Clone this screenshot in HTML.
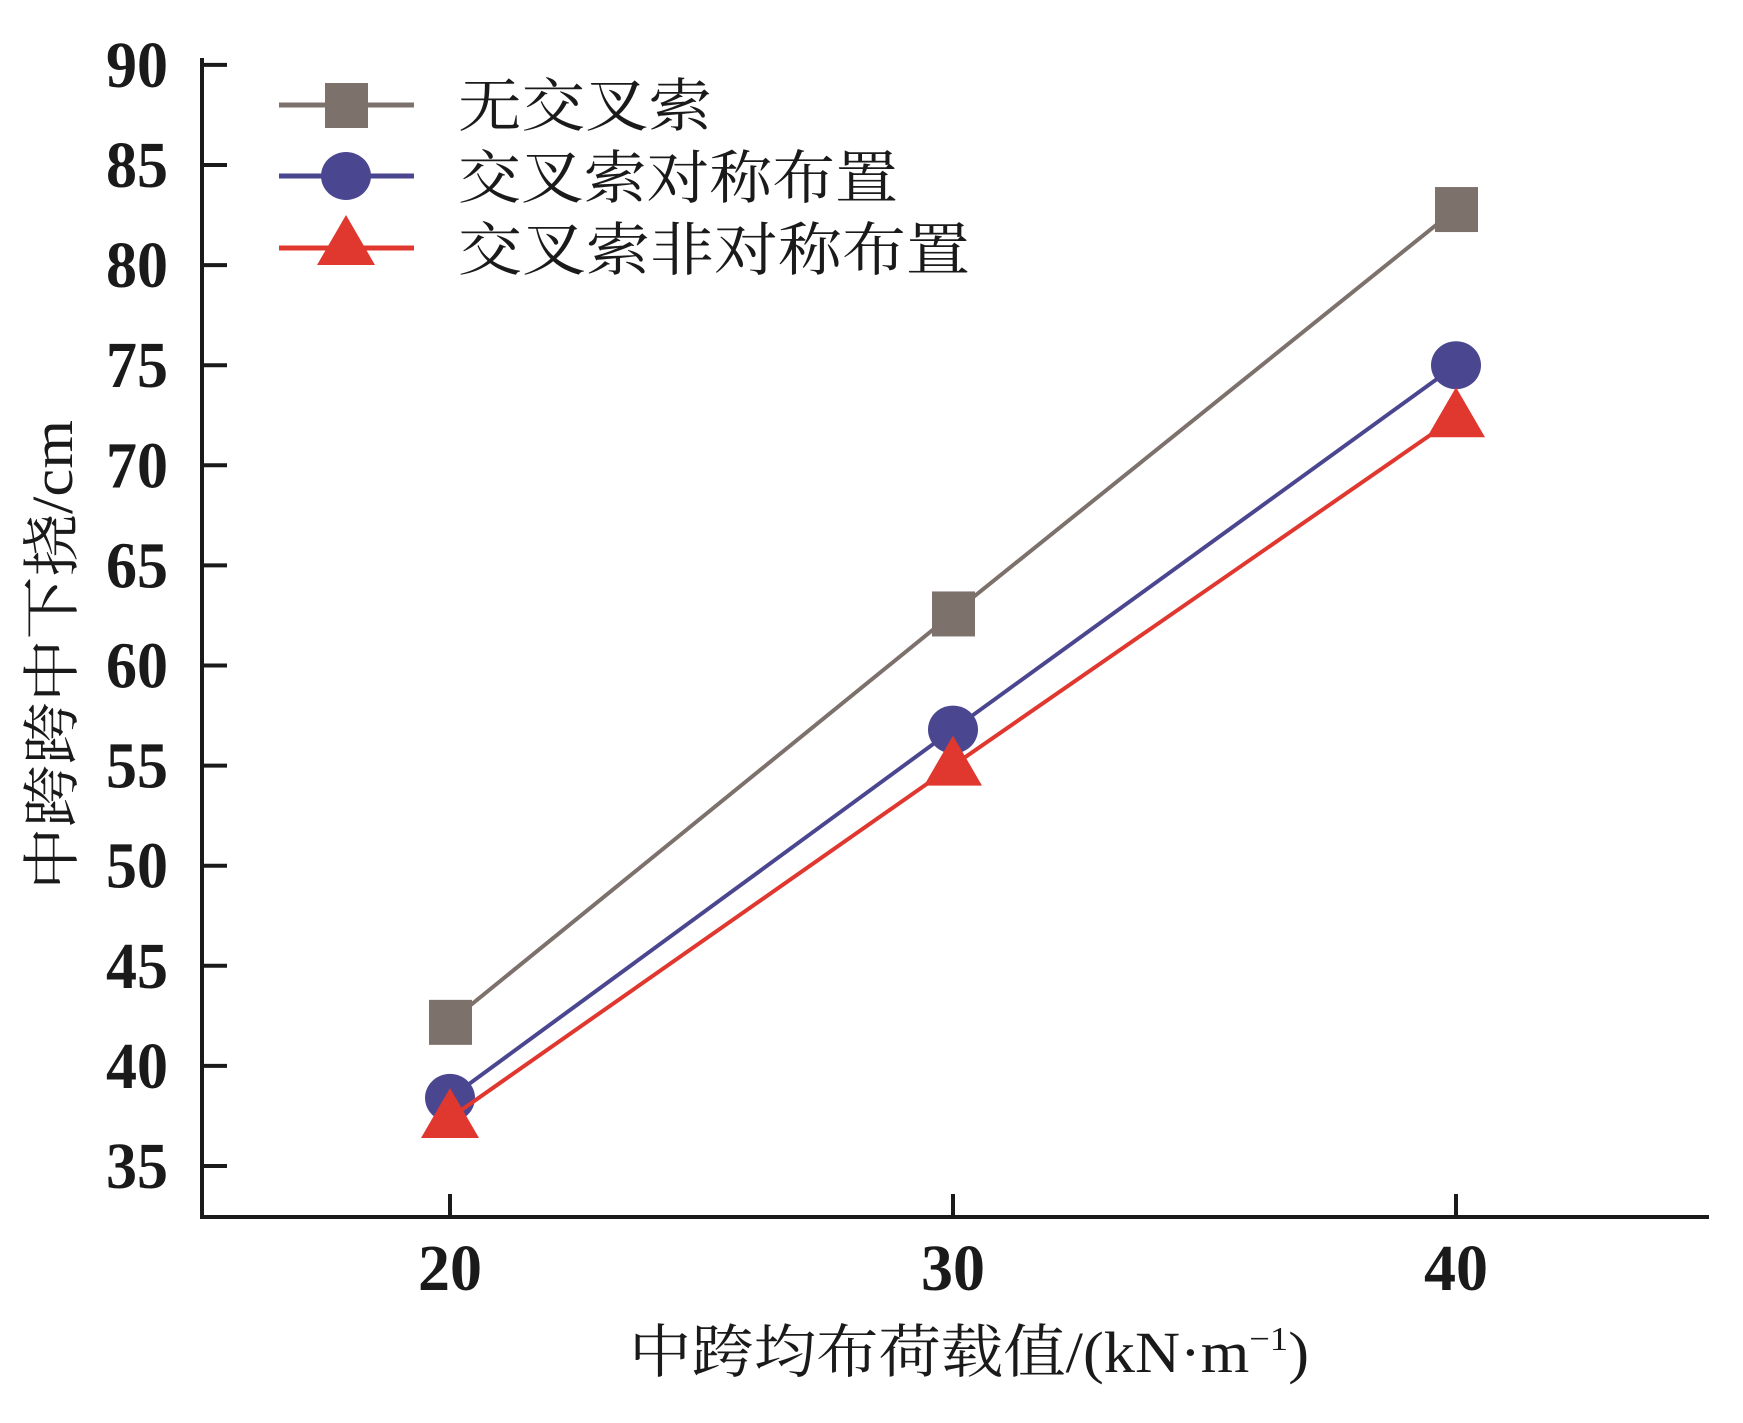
<!DOCTYPE html>
<html><head><meta charset="utf-8"><style>
html,body{margin:0;padding:0;background:#fff;}
svg{display:block;}
.tk{font-family:"Liberation Serif",serif;font-weight:bold;font-size:66px;fill:#1a1a1a;}
.cj{font-family:"Liberation Serif","Noto Serif CJK SC","Noto Sans CJK SC",serif;font-size:58px;fill:#1a1a1a;}
</style></head><body>
<svg id="chart" width="1743" height="1423" viewBox="0 0 1743 1423" xmlns="http://www.w3.org/2000/svg">
<g id="axes"></g>
<g id="series"></g>
<g id="legend">
  <g>
    <line x1="279" y1="105" x2="414" y2="105" stroke="#7d716c" stroke-width="5"/>
    <rect x="325" y="83" width="43" height="45" fill="#7d716c"/>
    <text class="cj" x="458" y="126" textLength="254" lengthAdjust="spacingAndGlyphs">无交叉索</text>
  </g>
  <g>
    <line x1="279" y1="176" x2="414" y2="176" stroke="#4b4690" stroke-width="5"/>
    <ellipse cx="346" cy="176" rx="25" ry="24" fill="#4b4690"/>
    <text class="cj" x="458" y="198" textLength="440" lengthAdjust="spacingAndGlyphs">交叉索对称布置</text>
  </g>
  <g>
    <line x1="279" y1="248" x2="414" y2="248" stroke="#e0372f" stroke-width="5"/>
    <polygon points="346,215 375,265 317,265" fill="#e0372f"/>
    <text class="cj" x="458" y="270" textLength="512" lengthAdjust="spacingAndGlyphs">交叉索非对称布置</text>
  </g>
</g>
<text class="cj" x="629" y="1372" textLength="680" lengthAdjust="spacingAndGlyphs">中跨均布荷载值/(kN·m<tspan font-size="34" dy="-22">−1</tspan><tspan dy="22">)</tspan></text>
<text class="cj" transform="translate(72,890) rotate(-90)" x="0" y="0" textLength="470" lengthAdjust="spacingAndGlyphs">中跨跨中下挠/cm</text>
</svg>
<script>
const categories=[20,30,40];
const noCross=[42.2,62.6,82.8];
const symmetric=[38.4,56.8,75.0];
const asymmetric=[37.4,55.0,72.4];
const yTicks=[35,40,45,50,55,60,65,70,75,80,85,90];
const xTicks=[20,30,40];
const NS='http://www.w3.org/2000/svg';
function X(v){return 450+(v-20)*50.3;}
function Y(v){return 1166-(v-35)*20.02;}
function mk(t,a,p){const e=document.createElementNS(NS,t);for(const k in a)e.setAttribute(k,a[k]);p.appendChild(e);return e;}
const ax=document.getElementById('axes');
let l=mk('path',{d:'M202,58 L202,1217 L1709,1217',fill:'none',stroke:'#1a1a1a','stroke-width':4},ax);


yTicks.forEach(v=>{
  const t=mk('line',{x1:202,x2:227,y1:Y(v),y2:Y(v),stroke:'#1a1a1a','stroke-width':4},ax);
  
  
  const s=mk('text',{class:'tk',x:106,y:Y(v)+22,textLength:62,lengthAdjust:'spacingAndGlyphs'},ax);
  s.textContent=v;
  
  
});
xTicks.forEach(v=>{
  const t=mk('line',{x1:X(v),x2:X(v),y1:1217,y2:1194,stroke:'#1a1a1a','stroke-width':4},ax);
  
  
  const s=mk('text',{class:'tk',x:X(v)-32,y:1290,textLength:64,lengthAdjust:'spacingAndGlyphs'},ax);
  s.textContent=v;
  
  
});
const sg=document.getElementById('series');
function series(vals,color,kind,name){
  const g=mk('g',{},sg);
  
  
  const pl=mk('polyline',{points:vals.map((v,i)=>X(categories[i])+','+Y(v)).join(' '),fill:'none',stroke:color,'stroke-width':4},g);
  
  
  vals.forEach((v,i)=>{
    const x=X(categories[i]),y=Y(v);let m;
    if(kind==='sq')m=mk('rect',{x:x-21,y:y-22,width:43,height:45,fill:color},g);
    else if(kind==='ci')m=mk('ellipse',{cx:x,cy:y,rx:25,ry:24,fill:color},g);
    else m=mk('polygon',{points:`${x},${y-30} ${x+29},${y+20} ${x-29},${y+20}`,fill:color},g);
    
    
  });
}
series(noCross,'#7d716c','sq','series-no-cross-cable');
series(symmetric,'#4b4690','ci','series-symmetric');
series(asymmetric,'#e0372f','tr','series-asymmetric');
</script>
</body></html>
